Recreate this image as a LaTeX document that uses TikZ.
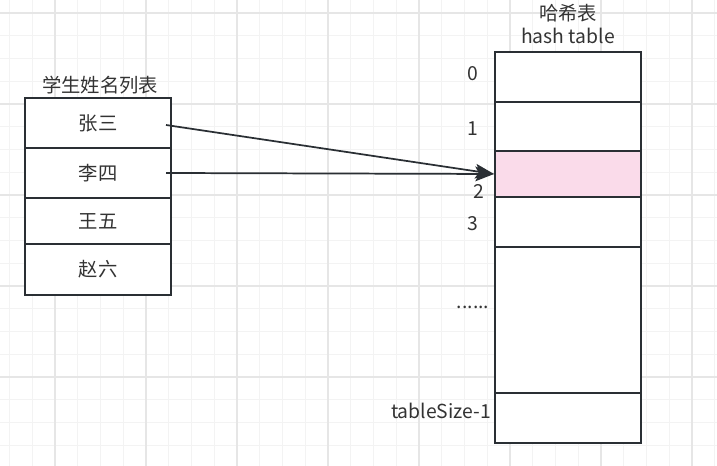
\documentclass[tikz,border=0pt]{standalone}
\usepackage{fontspec}
\setmainfont{Noto Sans CJK SC}
\usetikzlibrary{arrows.meta}
\definecolor{gridminor}{RGB}{243,243,243}
\definecolor{gridmajor}{RGB}{230,230,230}
\definecolor{edge}{RGB}{42,47,52}
\definecolor{txt}{RGB}{51,51,51}
\definecolor{hit}{RGB}{250,219,234}
\begin{document}
\begin{tikzpicture}[x=.75pt,y=-.75pt,font=\fontsize{14.5}{17}\selectfont,text=txt,
  cell/.style={draw=edge,line width=1.5pt,fill=white,minimum width=109.5pt,inner sep=0pt},
  lbl/.style={inner sep=0pt},
  link/.style={draw=edge,line width=1.3pt,-{Stealth[length=14pt,width=11pt,inset=3pt]}}]
\useasboundingbox (0,0) rectangle (717,466);
\foreach \k in {0,...,31} \draw[gridminor,line width=1pt] ({9.5+22.75*\k},0)--++(0,466);
\foreach \k in {0,...,20} \draw[gridminor,line width=1pt] (0,{-9.75+22.75*\k})--++(717,0);
\foreach \k in {0,...,7} \draw[gridmajor,line width=1pt] ({55+91*\k},0)--++(0,466);
\foreach \k in {0,...,4} \draw[gridmajor,line width=1pt] (0,{13+91*\k})--++(717,0);
\node[lbl] (ltitle) at (100,85) {学生姓名列表};
\node[cell,minimum height=37.5pt] (s1) at (98,123) {张三};
\node[cell,minimum height=37.5pt] (s2) at (98,173) {李四};
\node[cell,minimum height=34.5pt] (s3) at (98,221) {王五};
\node[cell,minimum height=38.25pt] (s4) at (98,269.5) {赵六};
\node[lbl] (htitle) at (568,13) {哈希表};\node[lbl] (htitle2) at (568,36) {hash table};
\node[cell,minimum height=37.5pt] (h0) at (568,77) {};
\node[cell,minimum height=36.75pt] (h1) at (568,126.5) {};
\node[cell,minimum height=34.5pt,fill=hit] (h2) at (568,174) {};
\node[cell,minimum height=37.5pt] (h3) at (568,222) {};
\node[cell,minimum height=109.5pt] (h4) at (568,320) {};
\node[cell,minimum height=37.5pt] (h5) at (568,418) {};
\node[lbl] (i0) at (473,74) {0};\node[lbl] (i1) at (473,129) {1};
\node[lbl] (i2) at (479,191) {2};\node[lbl] (i3) at (473,224) {3};
\node[lbl] (i4) at (473,307) {......};\node[lbl,anchor=east] (i5) at (491,411) {tableSize-1};
\draw[link] ([xshift=-4.5pt,yshift=-1.5pt]s1.east)--(h2.west);
\draw[link] ([xshift=-4.5pt]s2.east)--(h2.west);
\end{tikzpicture}
\end{document}
